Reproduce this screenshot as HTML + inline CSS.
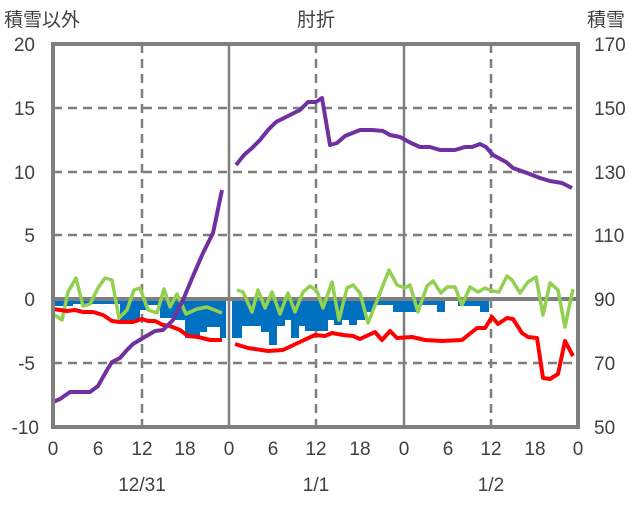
<!DOCTYPE html>
<html><head><meta charset="utf-8"><style>
html,body{margin:0;padding:0;background:#fff;}
svg text{font-family:"Liberation Sans","Noto Sans CJK JP",sans-serif;fill:#404040;font-size:19px;}
</style></head><body>
<svg width="636" height="501" viewBox="0 0 636 501">
<g stroke="#7f7f7f" stroke-width="2.5" stroke-dasharray="9,6" fill="none">
<line x1="53" y1="108" x2="578" y2="108"/>
<line x1="53" y1="172" x2="578" y2="172"/>
<line x1="53" y1="235" x2="578" y2="235"/>
<line x1="53" y1="363" x2="578" y2="363"/>
<line x1="142" y1="44" x2="142" y2="427"/>
<line x1="316" y1="44" x2="316" y2="427"/>
<line x1="491" y1="44" x2="491" y2="427"/>
</g>
<g stroke="#7f7f7f" stroke-width="2.5">
<line x1="229" y1="44" x2="229" y2="427"/>
<line x1="404" y1="44" x2="404" y2="427"/>
</g>
<g fill="#0070c0">
<rect x="53" y="300" width="20" height="6"/>
<rect x="73" y="300" width="47" height="4"/>
<rect x="120" y="300" width="20" height="20"/>
<rect x="140" y="300" width="8" height="10"/>
<rect x="148" y="300" width="12" height="5"/>
<rect x="160" y="300" width="15" height="18"/>
<rect x="175" y="300" width="10" height="20"/>
<rect x="185" y="300" width="15" height="38"/>
<rect x="200" y="300" width="7" height="32"/>
<rect x="207" y="300" width="13" height="27"/>
<rect x="220" y="300" width="6" height="38"/>
<rect x="232" y="300" width="10" height="38"/>
<rect x="242" y="300" width="19" height="26"/>
<rect x="261" y="300" width="8" height="32"/>
<rect x="269" y="300" width="8" height="45"/>
<rect x="277" y="300" width="8" height="26"/>
<rect x="285" y="300" width="6" height="20"/>
<rect x="291" y="300" width="8" height="38"/>
<rect x="299" y="300" width="6" height="26"/>
<rect x="305" y="300" width="23" height="31"/>
<rect x="328" y="300" width="6" height="20"/>
<rect x="334" y="300" width="8" height="25"/>
<rect x="342" y="300" width="7" height="20"/>
<rect x="349" y="300" width="8" height="25"/>
<rect x="357" y="300" width="8" height="20"/>
<rect x="365" y="300" width="8" height="12"/>
<rect x="373" y="300" width="20" height="5"/>
<rect x="393" y="300" width="7" height="12"/>
<rect x="400" y="300" width="16" height="12"/>
<rect x="416" y="300" width="21" height="5"/>
<rect x="437" y="300" width="8" height="12"/>
<rect x="458" y="300" width="22" height="6"/>
<rect x="480" y="300" width="9" height="12"/>
</g>
<line x1="53" y1="299" x2="578" y2="299" stroke="#7f7f7f" stroke-width="4"/>
<g fill="none" stroke-width="3.5" stroke-linejoin="round">
<polyline stroke="#92d050" points="53,314 62,320 68,292 76,278 83,306 90,304 98,288 105,278 112,280 119,318 127,310 134,290 140,288 148,310 157,313 164,289 170,307 177,294 186,314 197,309 207,307 222,313"/>
<polyline stroke="#92d050" points="237,290 243,292 252,312 258,290 265,308 272,292 280,314 288,293 295,312 303,292 310,286 317,291 323,308 332,282 339,320 347,288 353,285 360,293 368,323 378,298 389,270 397,285 405,288 410,285 418,312 427,286 433,281 441,293 447,287 455,287 462,305 470,287 478,292 485,288 492,291 499,292 507,276 512,280 520,293 528,282 536,277 543,315 550,283 558,290 565,327 573,289"/>
<polyline stroke="#ff0000" stroke-width="4" points="53,309 60,310 67,311 75,310 83,312 93,312 103,315 112,321 120,322 133,322 142,319 148,321 155,321 163,325 170,326 180,330 188,336 198,337 210,340 222,340"/>
<polyline stroke="#ff0000" stroke-width="4" points="235,344 248,348 268,351 283,350 302,341 315,335 325,336 332,333 343,335 353,336 360,339 375,332 382,340 390,331 397,338 412,337 425,340 442,341 462,340 477,328 485,328 492,317 498,324 507,318 513,319 522,333 528,337 537,338 543,378 550,379 558,374 565,341 573,356"/>
<polyline stroke="#7030a0" stroke-width="4" points="53,402 60,399 70,392 90,392 98,386 107,370 112,362 120,358 127,350 133,344 143,338 155,331 163,330 173,320 183,300 193,276 203,253 213,233 222,190"/>
<polyline stroke="#7030a0" stroke-width="4" points="236,165 244,155 252,148 260,140 268,130 276,122 290,115 300,110 308,102 316,102 322,98 330,145 337,143 345,136 360,130 372,130 383,131 390,135 400,137 411,143 420,147 430,147 440,150 455,150 465,147 472,147 480,144 486,147 493,155 506,162 513,168 527,173 540,178 550,181 562,183 572,188"/>
</g>
<rect x="53" y="44" width="525" height="383" fill="none" stroke="#7f7f7f" stroke-width="4"/>
<g text-anchor="end">
<text x="35" y="51">20</text><text x="35" y="115">15</text><text x="35" y="179">10</text>
<text x="35" y="242">5</text><text x="35" y="306">0</text><text x="35" y="370">-5</text><text x="39" y="434">-10</text>
</g>
<g text-anchor="start">
<text x="594" y="51">170</text><text x="594" y="115">150</text><text x="594" y="179">130</text>
<text x="594" y="242">110</text><text x="594" y="306">90</text><text x="594" y="370">70</text><text x="594" y="434">50</text>
</g>
<g text-anchor="middle">
<text x="53" y="455">0</text><text x="98" y="455">6</text><text x="142" y="455">12</text><text x="185" y="455">18</text>
<text x="229" y="455">0</text><text x="273" y="455">6</text><text x="316" y="455">12</text><text x="360" y="455">18</text>
<text x="404" y="455">0</text><text x="448" y="455">6</text><text x="491" y="455">12</text><text x="535" y="455">18</text><text x="578" y="455">0</text>
<text x="142" y="491">12/31</text><text x="316" y="491">1/1</text><text x="491" y="491">1/2</text>
<text x="316" y="26">肘折</text>
</g>
<text x="4" y="26">積雪以外</text>
<text x="587" y="26">積雪</text>
</svg>
</body></html>
